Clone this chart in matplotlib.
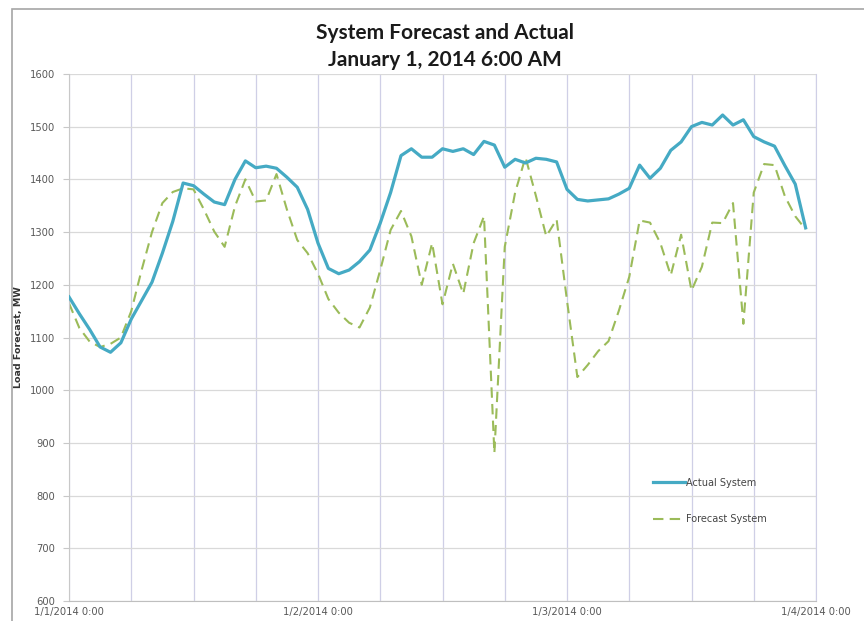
import numpy as np
import pandas as pd
import matplotlib
matplotlib.use('Agg')
import matplotlib.pyplot as plt
import matplotlib.dates as mdates
from matplotlib.patches import Rectangle

# hourly readings, 1/1/2014 0:00 .. 1/3/2014 23:00
times = pd.date_range('2014-01-01 00:00', periods=72, freq='h')

actual = [1177, 1145, 1115, 1082, 1072, 1090, 1135, 1170, 1205, 1260,
          1320, 1393, 1388, 1372, 1357, 1352, 1400, 1435, 1422, 1425,
          1421, 1404, 1385, 1343, 1279, 1231, 1221, 1228, 1244, 1266,
          1317, 1375, 1445, 1458, 1442, 1442, 1458, 1453, 1458, 1447,
          1472, 1465, 1423, 1438, 1431, 1440, 1438, 1433, 1381, 1362,
          1359, 1361, 1363, 1372, 1383, 1427, 1402, 1421, 1455, 1471,
          1500, 1508, 1503, 1522, 1503, 1513, 1481, 1471, 1463, 1426,
          1391, 1308]

forecast = [1165, 1118, 1092, 1082, 1088, 1100, 1150, 1228, 1300, 1355,
            1376, 1383, 1381, 1343, 1301, 1272, 1349, 1400, 1358, 1360,
            1410, 1343, 1285, 1260, 1221, 1173, 1147, 1128, 1119, 1157,
            1228, 1304, 1340, 1292, 1200, 1279, 1163, 1240, 1183, 1279,
            1330, 881, 1272, 1375, 1442, 1369, 1292, 1324, 1170, 1025,
            1048, 1074, 1093, 1151, 1215, 1322, 1318, 1279, 1218, 1295,
            1189, 1234, 1318, 1317, 1355, 1126, 1375, 1429, 1427, 1368,
            1330, 1305]

day_ticks = pd.to_datetime(['2014-01-01', '2014-01-02', '2014-01-03', '2014-01-04'])
day_labels = ['1/1/2014 0:00', '1/2/2014 0:00', '1/3/2014 0:00', '1/4/2014 0:00']
y_ticks = [600, 700, 800, 900, 1000, 1100, 1200, 1300, 1400, 1500, 1600]

fig = plt.figure(figsize=(8.64, 6.21), dpi=100)
ax = fig.add_axes([69 / 864, 0.032, 747 / 864, 0.849])

ax.plot(times, actual, color='#45AAC4', lw=2.3, label='Actual System', zorder=3)
ax.plot(times, forecast, color='#9BBB59', lw=1.5, dashes=(5, 3),
        label='Forecast System', zorder=2)

ax.set_ylim(600, 1600)
ax.set_yticks(y_ticks)
ax.set_xlim(day_ticks[0], day_ticks[-1])
ax.set_xticks(day_ticks)
ax.set_xticklabels(day_labels)
ax.xaxis.set_minor_locator(mdates.HourLocator(byhour=[6, 12, 18]))

ax.grid(axis='y', color='#D9D9D9', lw=0.9)
ax.grid(axis='x', which='both', color='#CFCFE6', lw=0.9)
ax.set_axisbelow(True)

ax.spines['top'].set_visible(False)
ax.spines['right'].set_color('#CFCFE6')
ax.spines['left'].set_color('#C8C8C8')
ax.spines['bottom'].set_color('#BFBFBF')
ax.tick_params(axis='both', which='both', length=0, labelsize=7.2, labelcolor='#595959')
ax.tick_params(axis='y', length=4, color='#C8C8C8', pad=6)
ax.tick_params(axis='x', pad=4)

ax.set_ylabel('Load Forecast, MW', fontsize=6.8, fontweight='bold', color='#333333')
ax.yaxis.set_label_coords(-46 / 747, 0.5)

fig.text(0.515, 0.947, 'System Forecast and Actual', ha='center', va='center',
         fontsize=15, fontweight='bold', family='Lato', color='#1A1A1A')
fig.text(0.515, 0.903, 'January 1, 2014 6:00 AM', ha='center', va='center',
         fontsize=15, fontweight='bold', family='Lato', color='#1A1A1A')

leg = ax.legend(loc='center left', bbox_to_anchor=(0.77, 0.19), frameon=False,
                fontsize=7, handlelength=3.3, handletextpad=0.1, labelspacing=2.7)
for t in leg.get_texts():
    t.set_color('#444444')

fig.patches.append(Rectangle((12 / 864, -0.1), 2, 1.1 - 9 / 621, transform=fig.transFigure,
                             fill=False, edgecolor='#A6A6A6', lw=1.2))

fig.savefig('out.png', dpi=100)
